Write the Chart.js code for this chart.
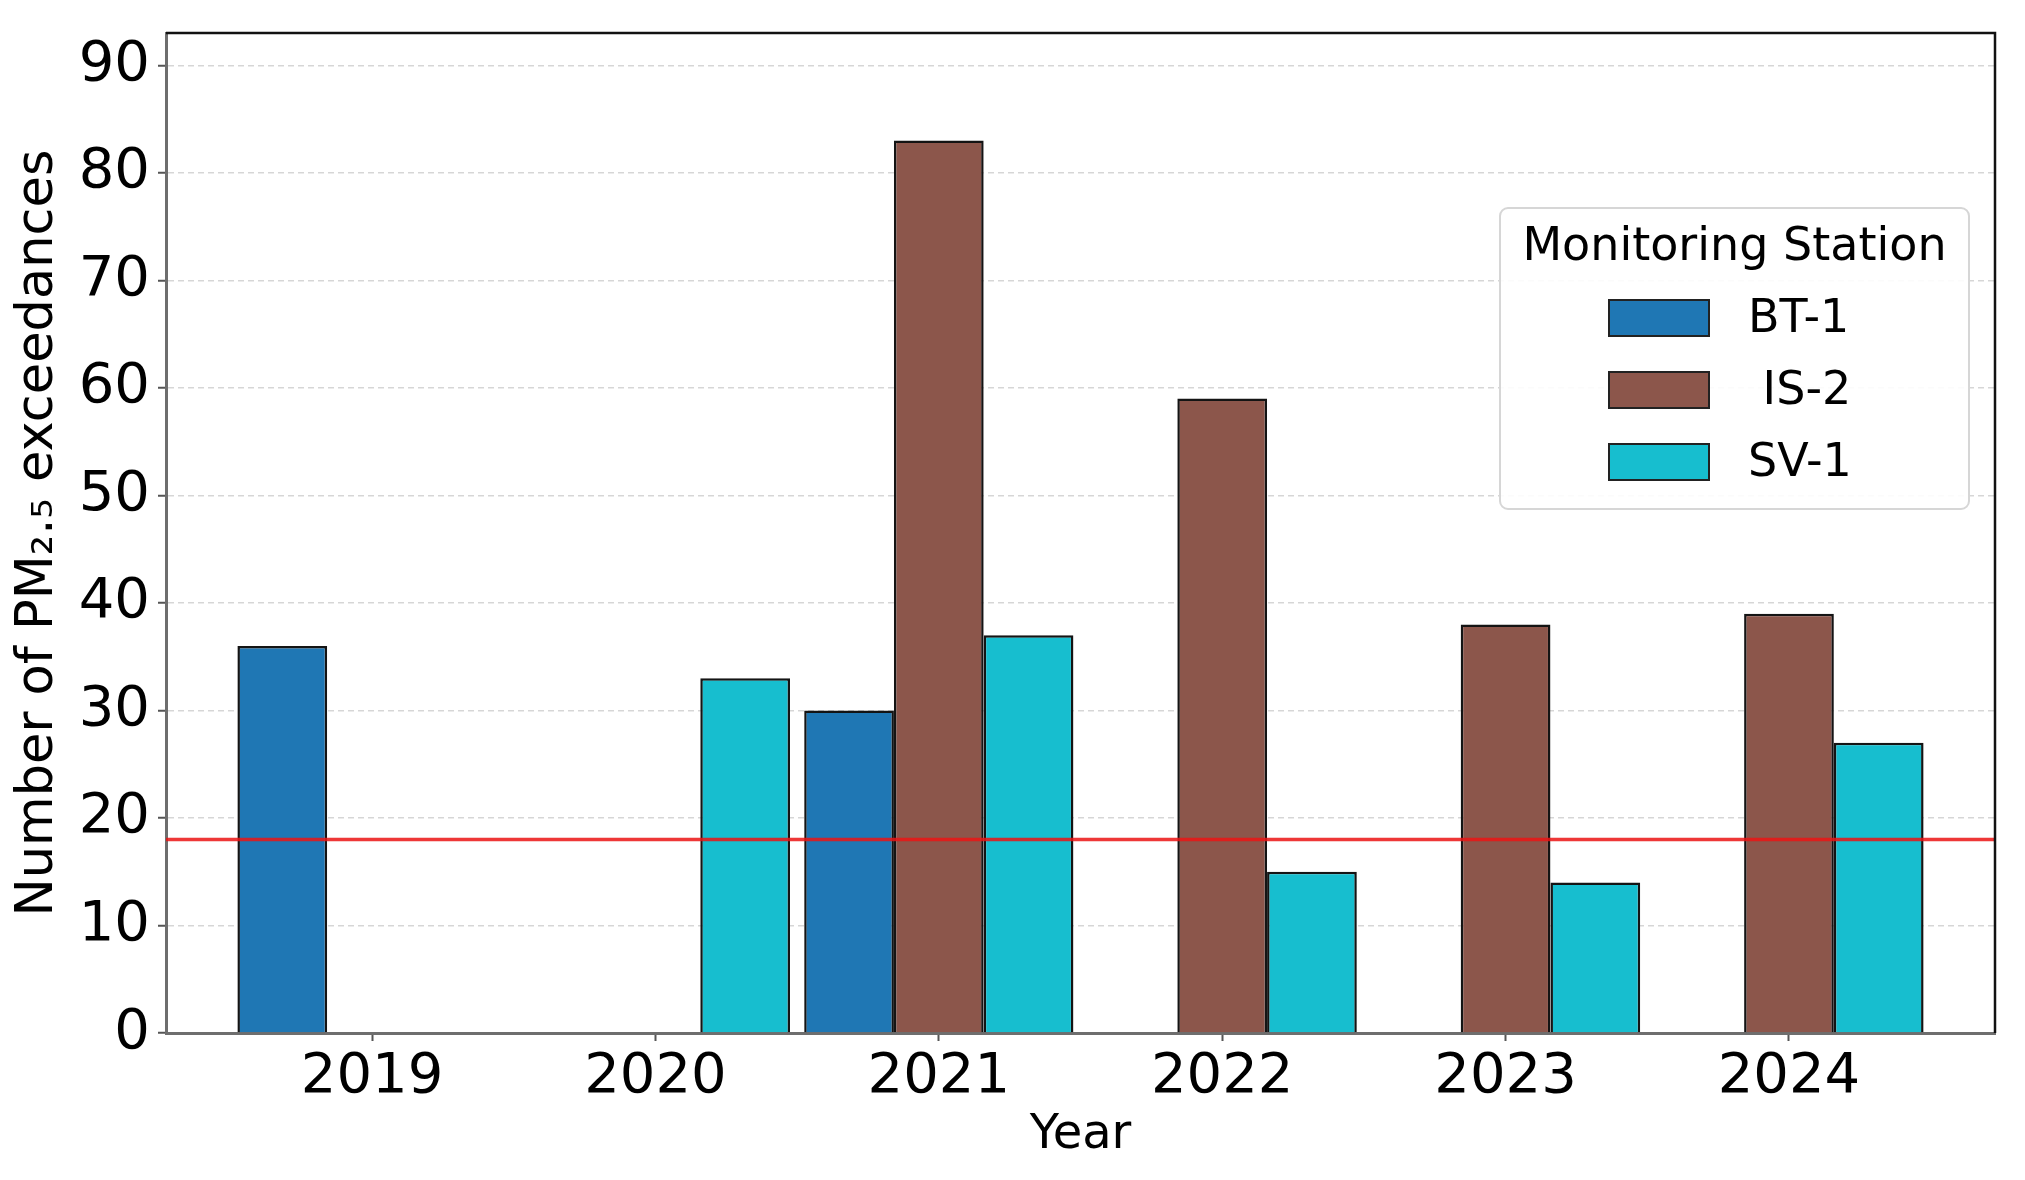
<!DOCTYPE html>
<html>
<head>
<meta charset="utf-8">
<script src="https://cdn.jsdelivr.net/npm/chart.js@4/dist/chart.umd.min.js"></script>
<style>
  html, body { margin: 0; padding: 0; background: #fff; }
  #wrap { width: 2025px; height: 1180px; position: relative; }
</style>
</head>
<body>
<div id="wrap"><canvas id="pmChart"></canvas></div>
<script>
// data
const years = [2019, 2020, 2021, 2022, 2023, 2024];
const stations = ['BT-1', ' IS-2', 'SV-1'];
const bt1 = [36, null, 30, null, null, null];
const is2 = [null, null, 83, 59, 38, 39];
const sv1 = [null, 33, 37, 15, 14, 27];
const threshold = 18;
const yMax = 93;
const yStep = 10;

const colors = ['#1f77b4', '#8c564b', '#17becf'];
const FONT = "'DejaVu Sans', sans-serif";

const toPoints = arr => years.map((y, i) => ({ x: y, y: arr[i] }));

// red limit line across the plot
const limitLine = {
    id: 'limitLine',
    afterDatasetsDraw(chart) {
        const { ctx, chartArea, scales } = chart;
        const y = scales.y.getPixelForValue(threshold);
        ctx.save();
        ctx.strokeStyle = 'rgba(235, 20, 20, 0.85)';
        ctx.lineWidth = 3.5;
        ctx.beginPath();
        ctx.moveTo(chartArea.left, y);
        ctx.lineTo(chartArea.right, y);
        ctx.stroke();
        ctx.restore();
    }
};

// top/right frame + legend box
const frameAndLegend = {
    id: 'frameAndLegend',
    afterDraw(chart) {
        const { ctx, chartArea } = chart;
        ctx.save();
        ctx.strokeStyle = '#111';
        ctx.lineWidth = 2.5;
        ctx.beginPath();
        ctx.moveTo(chartArea.left, chartArea.top);
        ctx.lineTo(chartArea.right, chartArea.top);
        ctx.lineTo(chartArea.right, chartArea.bottom);
        ctx.stroke();

        // legend
        const bx = chartArea.right - 495, by = chartArea.top + 175, bw = 469, bh = 301;
        ctx.fillStyle = 'rgba(255,255,255,0.9)';
        ctx.strokeStyle = '#d6d6d6';
        ctx.lineWidth = 2;
        ctx.beginPath();
        ctx.roundRect(bx, by, bw, bh, 8);
        ctx.fill();
        ctx.stroke();

        ctx.fillStyle = '#000';
        ctx.font = '46px ' + FONT;
        ctx.textAlign = 'center';
        ctx.textBaseline = 'middle';
        ctx.fillText('Monitoring Station', bx + bw / 2, by + 40);

        chart.data.datasets.forEach((ds, i) => {
            const cy = by + 110 + i * 72;
            ctx.fillStyle = ds.backgroundColor;
            ctx.fillRect(bx + 109, cy - 18, 100, 36);
            ctx.strokeStyle = '#222';
            ctx.lineWidth = 2;
            ctx.strokeRect(bx + 109, cy - 18, 100, 36);
            ctx.fillStyle = '#000';
            ctx.textAlign = 'left';
            ctx.font = '46px ' + FONT;
            ctx.fillText(ds.label, bx + 248, cy + 2);
        });
        ctx.restore();
    }
};

const ctx = document.getElementById('pmChart');
new Chart(ctx, {
    type: 'bar',
    data: {
        datasets: [
            { label: stations[0], data: toPoints(bt1), backgroundColor: colors[0] },
            { label: stations[1], data: toPoints(is2), backgroundColor: colors[1] },
            { label: stations[2], data: toPoints(sv1), backgroundColor: colors[2] }
        ]
    },
    options: {
        responsive: true,
        maintainAspectRatio: false,
        animation: false,
        layout: { padding: { top: 33, right: 30, left: 0, bottom: 0 } },
        datasets: {
            bar: {
                borderColor: '#141414',
                borderWidth: 2.5,
                categoryPercentage: 0.95,
                barPercentage: 1.0
            }
        },
        plugins: {
            legend: { display: false },
            tooltip: { enabled: false }
        },
        scales: {
            x: {
                type: 'linear',
                offset: false,
                min: years[0] - 0.727,
                max: years[years.length - 1] + 0.727,
                afterFit: s => { s.height = 147; s.paddingLeft = 0; s.paddingRight = 0; },
                ticks: {
                    stepSize: 1,
                    includeBounds: false,
                    autoSkip: false,
                    maxRotation: 0,
                    padding: 3,
                    color: '#000',
                    font: { family: FONT, size: 56 },
                    callback: v => String(v)
                },
                grid: {
                    offset: false,
                    drawOnChartArea: false,
                    drawTicks: true,
                    tickLength: 8,
                    tickWidth: 2,
                    tickColor: '#555'
                },
                border: { display: true, color: '#6e6e6e', width: 3 },
                title: {
                    display: true,
                    text: 'Year',
                    color: '#000',
                    font: { family: FONT, size: 48 },
                    padding: { top: 0, bottom: 16 }
                }
            },
            y: {
                min: 0,
                max: yMax,
                afterFit: s => { s.width = 166; s.paddingTop = 0; s.paddingBottom = 0; },
                ticks: {
                    stepSize: yStep,
                    includeBounds: false,
                    padding: 8,
                    color: '#000',
                    font: { family: FONT, size: 56 }
                },
                grid: {
                    color: 'rgba(0,0,0,0.16)',
                    lineWidth: 1.5,
                    drawTicks: true,
                    tickLength: 8,
                    tickWidth: 2,
                    tickColor: '#555',
                    tickBorderDash: []
                },
                border: { display: true, color: '#6e6e6e', width: 3, dash: [6, 4] },
                title: {
                    display: true,
                    text: 'Number of PM₂.₅ exceedances',
                    color: '#000',
                    font: { family: FONT, size: 51 },
                    padding: { top: 8, bottom: 0 }
                }
            }
        }
    },
    plugins: [limitLine, frameAndLegend]
});
</script>
</body>
</html>
